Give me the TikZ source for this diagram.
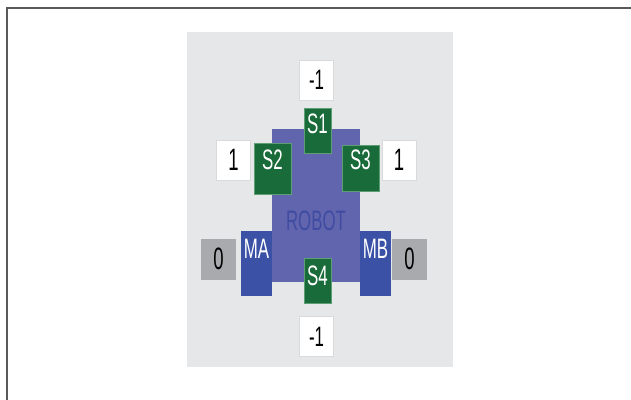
\documentclass[tikz,border=0pt]{standalone}
\usepackage{fontspec}
\setmainfont{Liberation Sans}
\usepackage{graphicx}
\definecolor{panelgray}{HTML}{E6E7E9}
\definecolor{bodyblue}{HTML}{6165AE}
\definecolor{bodytext}{HTML}{3F4CA2}
\definecolor{sgreen}{HTML}{1A6B3A}
\definecolor{sedge}{HTML}{5E9E74}
\definecolor{mblue}{HTML}{3A51A6}
\definecolor{zgray}{HTML}{A9AAAD}
\definecolor{vedge}{HTML}{DADADA}
\definecolor{framec}{HTML}{5A5A5A}
\newcommand{\nar}[1]{\scalebox{0.6}[1]{#1}}
\newcommand{\lbl}{\fontsize{20}{24}\selectfont}
\newcommand{\lblbig}{\fontsize{22}{26}\selectfont}
\tikzset{sens/.style={fill=sgreen, draw=sedge, line width=0.6pt, text=white, inner sep=0pt, anchor=north, font=\lbl},
  motor/.style={fill=mblue, text=white, inner sep=0pt, anchor=north, minimum width=0.775cm, text height=0.675cm, text depth=0.95cm, font=\lbl},
  valbox/.style={fill=white, draw=vedge, line width=0.4pt, inner sep=0pt, minimum width=0.86cm, minimum height=1cm, font=\lbl},
  zerobox/.style={valbox, fill=zgray, draw=zgray, font=\lblbig}}

\begin{document}
\begin{tikzpicture}[x=0.025cm, y=-0.025cm]
  \useasboundingbox (0,0) rectangle (631,400);
  % frame and panel
  \draw[framec, line width=1pt] (7,400) -- (7,8) -- (631,8);
  \fill[panelgray] (187,32) rectangle (453,367);
  % robot body
  \node[fill=bodyblue, text=bodytext, inner sep=0pt, anchor=north, minimum width=2.2cm, text height=2.525cm, text depth=1.3cm, font=\lbl] (robot) at (316,129) {\nar{ROBOT}};
  % motors
  \node[motor] (ma) at (256.5,231) {\nar{MA}};
  \node[motor] (mb) at (375.5,231) {\nar{MB}};
  % sensors
  \node[sens, minimum width=0.675cm, text height=0.625cm, text depth=0.5cm] (s1) at (317.5,108) {\nar{S1}};
  \node[sens, minimum width=0.925cm, text height=0.65cm, text depth=0.625cm] (s2) at (272.5,143) {\nar{S2}};
  \node[sens, minimum width=0.925cm, text height=0.6cm, text depth=0.55cm] (s3) at (360.5,145) {\nar{S3}};
  \node[sens, minimum width=0.675cm, text height=0.675cm, text depth=0.45cm] (s4) at (317.5,258) {\nar{S4}};
  % readings
  \node[valbox] (v1) at (316.5,80) {\nar{-1}};
  \node[valbox, font=\lblbig] (v2) at (233.5,160) {\nar{1}};
  \node[valbox, font=\lblbig] (v3) at (399,160) {\nar{1}};
  \node[valbox] (v4) at (316.5,336.5) {\nar{-1}};
  \node[zerobox] (va) at (218.5,259) {\nar{0}};
  \node[zerobox] (vb) at (409.5,259) {\nar{0}};
\end{tikzpicture}
\end{document}
